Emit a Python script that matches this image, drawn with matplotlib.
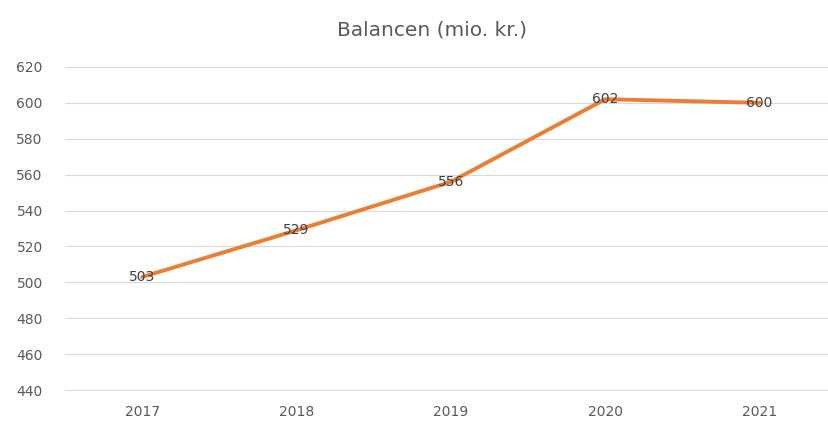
import matplotlib.pyplot as plt

years = ['2017', '2018', '2019', '2020', '2021']
balance = [503, 529, 556, 602, 600]
yticks = [440, 460, 480, 500, 520, 540, 560, 580, 600, 620]

fig = plt.figure(figsize=(8.29, 4.21), dpi=100)
ax = fig.add_axes([65 / 829, 30 / 421, (829 - 65) / 829, 325 / 421])

x = list(range(len(years)))
ax.plot(x, balance, color='#ED7D31', lw=2.8, solid_capstyle='round', zorder=3)
for xi, v in zip(x, balance):
    ax.text(xi, v, str(v), ha='center', va='center', fontsize=10,
            color='#404040', zorder=4)

ax.set_xlim(-0.5, 4.45)
ax.set_ylim(439.5, 620.5)
ax.set_yticks(yticks)
ax.set_xticks(x)
ax.set_xticklabels(years)
ax.grid(axis='y', color='#d9d9d9', lw=0.8)
ax.set_axisbelow(True)
for s in ax.spines.values():
    s.set_visible(False)
ax.tick_params(length=0, labelsize=10, labelcolor='#595959')
ax.tick_params(axis='y', pad=16)
ax.tick_params(axis='x', pad=10)

fig.suptitle('Balancen (mio. kr.)', x=432 / 829, y=1 - 30 / 421, va='center',
             fontsize=14.5, color='#595959')

fig.savefig('out.png', dpi=100)
